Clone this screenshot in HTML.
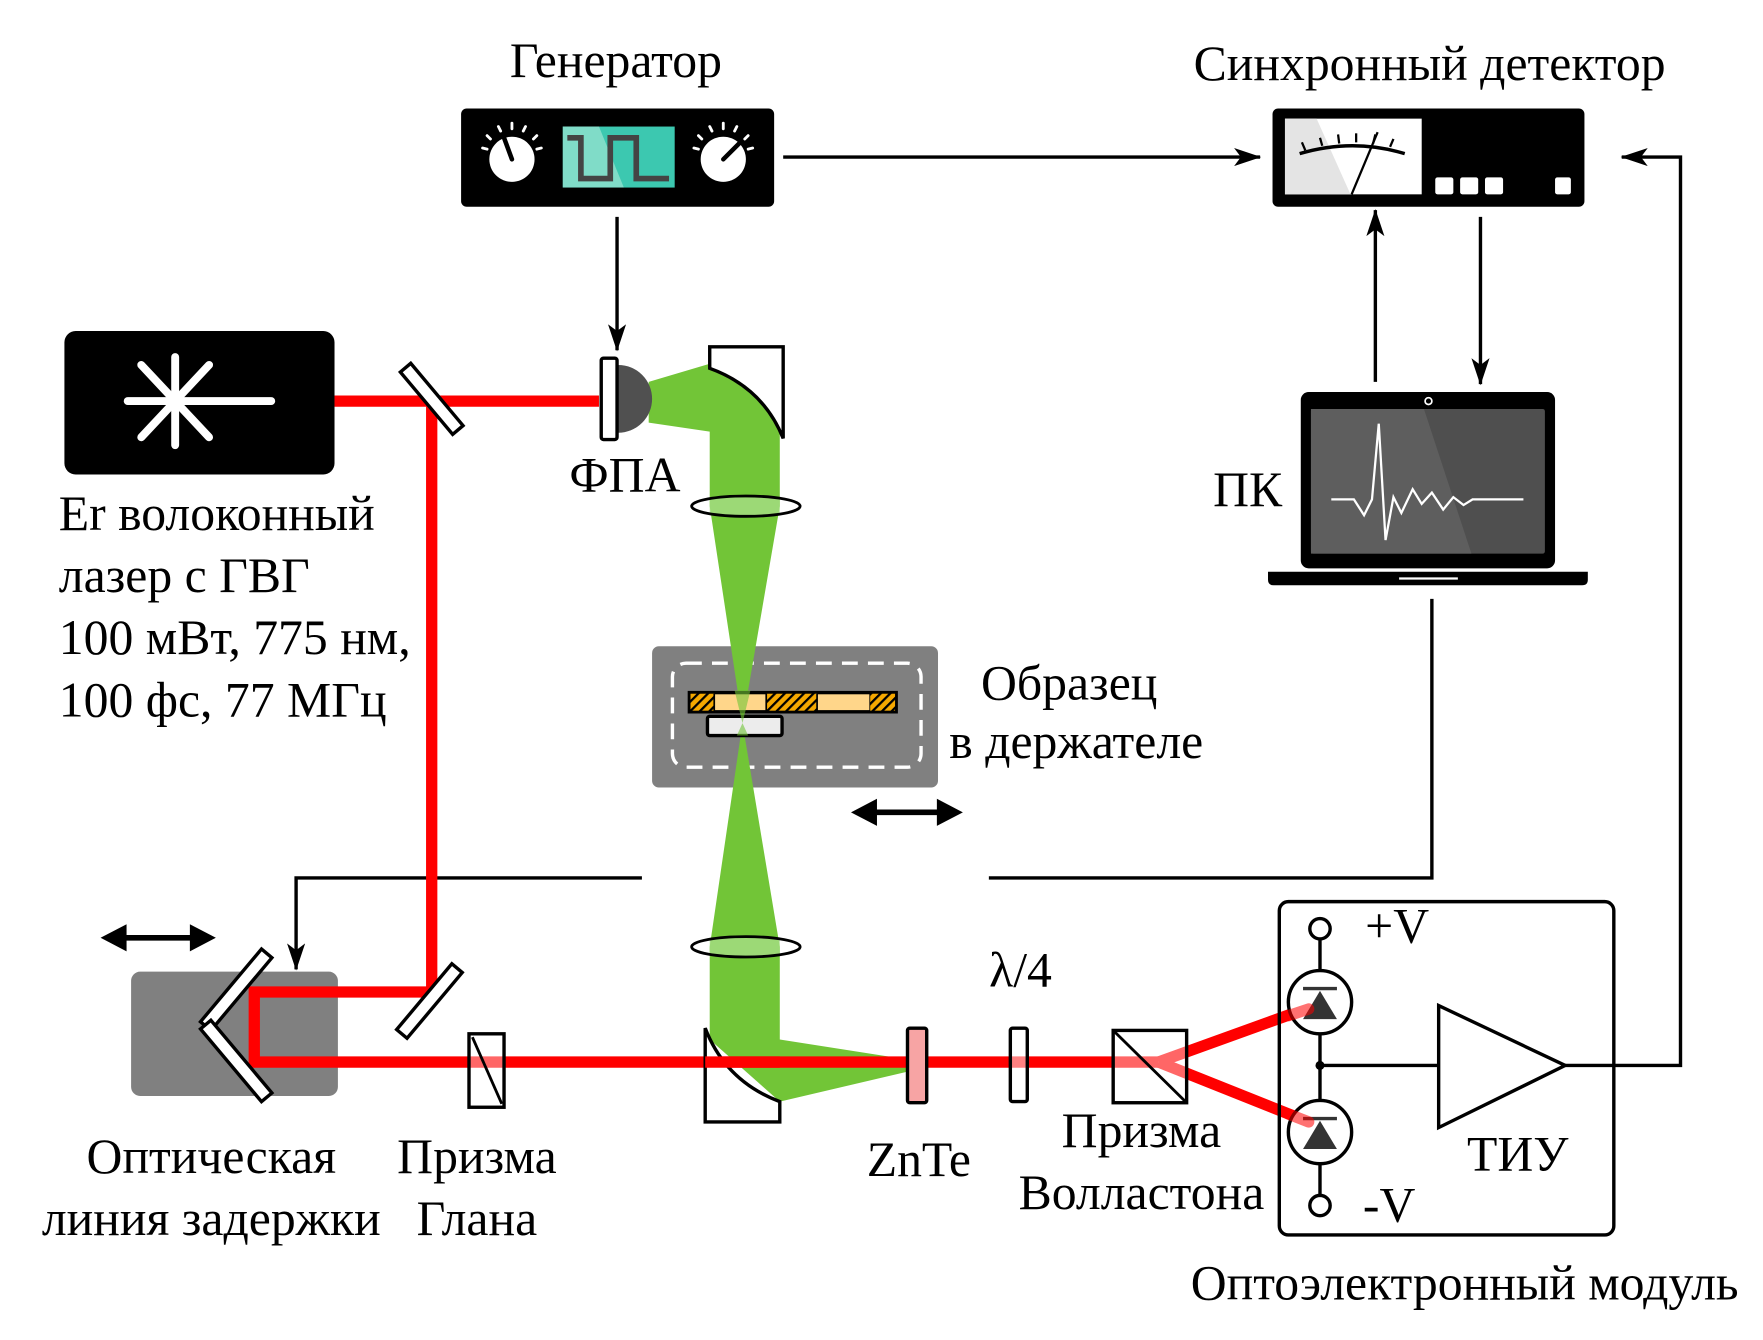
<!DOCTYPE html>
<html><head><meta charset="utf-8"><style>
html,body{margin:0;padding:0;background:#fff}
svg{display:block}
text{font-family:"Liberation Serif",serif;fill:#000}
</style></head><body>
<svg width="1763" height="1340" viewBox="0 0 1560 1186" preserveAspectRatio="none" xmlns="http://www.w3.org/2000/svg">
<defs>
<marker id="ah" viewBox="0 0 24 16" refX="23" refY="8" markerWidth="24" markerHeight="16" markerUnits="userSpaceOnUse" orient="auto"><path d="M0,0 L24,8 L0,16 L6,8 Z" fill="#000"/></marker>
<pattern id="hatch" width="6" height="6" patternUnits="userSpaceOnUse" patternTransform="rotate(45)"><rect width="6" height="6" fill="#f5a800"/><rect width="2" height="6" fill="#000"/></pattern>
</defs>

<g font-size="44">
<text x="545" y="68" text-anchor="middle">Генератор</text>
<text x="1265" y="71" text-anchor="middle">Синхронный детектор</text>
<text x="52" y="469">Er волоконный</text>
<text x="52" y="524">лазер с ГВГ</text>
<text x="52" y="579">100 мВт, 775 нм,</text>
<text x="52" y="634">100 фс, 77 МГц</text>
<text x="553" y="435" text-anchor="middle">ФПА</text>
<text x="1104" y="448" text-anchor="middle">ПК</text>
<text x="868" y="619">Образец</text>
<text x="840" y="671">в держателе</text>
<text x="187" y="1038" text-anchor="middle">Оптическая</text>
<text x="187" y="1093" text-anchor="middle">линия задержки</text>
<text x="422" y="1038" text-anchor="middle">Призма</text>
<text x="422" y="1093" text-anchor="middle">Глана</text>
<text x="813" y="1041" text-anchor="middle">ZnTe</text>
<text x="903" y="873" text-anchor="middle">λ/4</text>
<text x="1010" y="1015" text-anchor="middle">Призма</text>
<text x="1010" y="1070" text-anchor="middle">Волластона</text>
<text x="1208" y="834">+V</text>
<text x="1206" y="1081">-V</text>
<text x="1343" y="1036" text-anchor="middle">ТИУ</text>
<text x="1296" y="1150" text-anchor="middle">Оптоэлектронный модуль</text>
</g>

<rect x="408" y="96" width="277" height="87" rx="5" fill="#000"/>
<rect x="498" y="112" width="99" height="54" fill="#3cc8b0"/>
<polygon points="498,112 530,112 552,166 498,166" fill="#80dcc8"/>
<path d="M502,122 H514 V158 H540 V122 H563 V158 H592" fill="none" stroke="#444" stroke-width="5"/>
<circle cx="453" cy="141" r="20" fill="#fff"/>
<line x1="453" y1="141" x2="446" y2="122" stroke="#000" stroke-width="4" stroke-linecap="round"/>
<g stroke="#fff" stroke-width="2.5" stroke-linecap="round">
<line x1="427" y1="131" x2="431" y2="132"/><line x1="431" y1="120" x2="434" y2="123"/><line x1="441" y1="112" x2="443" y2="116"/><line x1="453" y1="109" x2="453" y2="114"/><line x1="465" y1="112" x2="463" y2="116"/><line x1="475" y1="120" x2="472" y2="123"/><line x1="479" y1="131" x2="475" y2="132"/>
</g>
<circle cx="640" cy="141" r="20" fill="#fff"/>
<line x1="640" y1="141" x2="655" y2="126" stroke="#000" stroke-width="4" stroke-linecap="round"/>
<g stroke="#fff" stroke-width="2.5" stroke-linecap="round">
<line x1="614" y1="131" x2="618" y2="132"/><line x1="618" y1="120" x2="621" y2="123"/><line x1="628" y1="112" x2="630" y2="116"/><line x1="640" y1="109" x2="640" y2="114"/><line x1="652" y1="112" x2="650" y2="116"/><line x1="662" y1="120" x2="659" y2="123"/><line x1="666" y1="131" x2="662" y2="132"/>
</g>

<rect x="1126" y="96" width="276" height="87" rx="5" fill="#000"/>
<rect x="1137" y="105" width="121" height="67" fill="#fff"/>
<polygon points="1137,105 1165,105 1195,172 1137,172" fill="#e4e4e4"/>
<path d="M1150,136 Q1197,122 1243,136" fill="none" stroke="#000" stroke-width="3"/>
<g stroke="#000" stroke-width="2"><line x1="1155" y1="133" x2="1152" y2="126"/><line x1="1170" y1="129" x2="1168" y2="122"/><line x1="1185" y1="127" x2="1184" y2="119"/><line x1="1200" y1="126" x2="1200" y2="118"/><line x1="1215" y1="127" x2="1217" y2="119"/><line x1="1230" y1="130" x2="1233" y2="123"/></g>
<line x1="1196" y1="172" x2="1219" y2="117" stroke="#000" stroke-width="2"/>
<rect x="1270" y="157" width="16" height="15" rx="2" fill="#fff"/>
<rect x="1292" y="157" width="16" height="15" rx="2" fill="#fff"/>
<rect x="1314" y="157" width="16" height="15" rx="2" fill="#fff"/>
<rect x="1376" y="157" width="14" height="15" rx="2" fill="#fff"/>

<g stroke="#000" stroke-width="3" fill="none">
<line x1="693" y1="139" x2="1115" y2="139" marker-end="url(#ah)"/>
<polyline points="1385,943 1487,943 1487,139 1435,139" marker-end="url(#ah)"/>
<line x1="546" y1="192" x2="546" y2="310" marker-end="url(#ah)"/>
<line x1="1217" y1="338" x2="1217" y2="186" marker-end="url(#ah)"/>
<line x1="1310" y1="192" x2="1310" y2="340" marker-end="url(#ah)"/>
<polyline points="1267,530 1267,777 875,777"/>
<polyline points="568,777 262,777 262,858" marker-end="url(#ah)"/>
</g>

<rect x="1151" y="347" width="225" height="156" rx="7" fill="#000"/>
<rect x="1160" y="362" width="207" height="128" rx="2" fill="#4f4f4f"/>
<polygon points="1160,362 1260,362 1302,490 1160,490" fill="#5e5e5e"/>
<circle cx="1264" cy="355" r="3" fill="none" stroke="#fff" stroke-width="1.5"/>
<polyline points="1178,442 1198,442 1207,456 1214,442 1220,375 1226,478 1233,440 1240,454 1250,433 1258,446 1267,436 1277,451 1286,440 1295,447 1303,442 1348,442" fill="none" stroke="#fff" stroke-width="2"/>
<path d="M1122,506 H1405 V513 Q1405,518 1400,518 H1127 Q1122,518 1122,513 Z" fill="#000"/>
<line x1="1238" y1="512" x2="1290" y2="512" stroke="#fff" stroke-width="2"/>

<rect x="57" y="293" width="239" height="127" rx="10" fill="#000"/>
<g stroke="#fff" stroke-width="7" stroke-linecap="round">
<line x1="113" y1="355" x2="240" y2="355"/>
<line x1="155" y1="316" x2="155" y2="394"/>
<line x1="125" y1="323" x2="185" y2="387"/>
<line x1="125" y1="387" x2="185" y2="323"/>
</g>

<rect x="116" y="860" width="183" height="110" rx="8" fill="#808080"/>

<rect x="577" y="572" width="253" height="125" rx="6" fill="#808080"/>
<rect x="595" y="587" width="220" height="92" rx="12" fill="none" stroke="#fff" stroke-width="3" stroke-dasharray="14,9"/>

<polygon fill="#72c537" points="574,338 628,322 690,330 690,448 657,640 690,838 690,920 805,938 805,948 690,975 628,920 628,838 657,640 628,448 628,382 574,374"/>
<rect x="610" y="613" width="183" height="17" fill="#ffd68a" stroke="#000" stroke-width="3"/>
<rect x="611" y="614" width="21" height="15" fill="url(#hatch)"/>
<rect x="678" y="614" width="45" height="15" fill="url(#hatch)"/>
<line x1="678" y1="614" x2="678" y2="629" stroke="#000" stroke-width="1.5"/><line x1="723" y1="614" x2="723" y2="629" stroke="#000" stroke-width="1.5"/><line x1="632" y1="614" x2="632" y2="629" stroke="#000" stroke-width="1.5"/><line x1="770" y1="614" x2="770" y2="629" stroke="#000" stroke-width="1.5"/>
<rect x="770" y="614" width="22" height="15" fill="url(#hatch)"/>
<rect x="626" y="634" width="66" height="17" rx="2" fill="#ececec" stroke="#000" stroke-width="3"/>
<polygon fill="#72c537" opacity="0.6" points="650,611 664,611 657,640"/>
<polygon fill="#72c537" opacity="0.6" points="652,651 662,651 657,640"/>

<rect x="628" y="440" width="62" height="16" fill="#a6dd86" opacity="0.8"/>
<ellipse cx="660" cy="448" rx="48" ry="9" fill="none" stroke="#000" stroke-width="2.5"/>
<rect x="628" y="830" width="62" height="16" fill="#a6dd86" opacity="0.8"/>
<ellipse cx="660" cy="838" rx="48" ry="9" fill="none" stroke="#000" stroke-width="2.5"/>

<g stroke="#000" stroke-width="5"><line x1="100" y1="830" x2="180" y2="830"/><line x1="765" y1="719" x2="840" y2="719"/></g>
<polygon points="89,830 112,818 112,842" fill="#000"/><polygon points="191,830 168,818 168,842" fill="#000"/>
<polygon points="753,719 776,707 776,731" fill="#000"/><polygon points="852,719 829,707 829,731" fill="#000"/>

<g stroke="#ff0000" stroke-width="10" fill="none">
<polyline points="296,355 530,355"/>
<polyline points="382,355 382,878 225,878 225,940 1025,940"/>
<line x1="1025" y1="940" x2="1158" y2="892"/>
<line x1="1025" y1="940" x2="1158" y2="993"/>
</g>

<g fill="#fff" stroke="#000" stroke-width="3">
<rect x="-6" y="-36" width="12" height="72" transform="translate(382,353) rotate(-40)"/>
<rect x="-6" y="-38" width="12" height="76" transform="translate(380,886) rotate(40)"/>
<rect x="-6" y="-42" width="12" height="84" transform="translate(209,876) rotate(40)"/>
<rect x="-6" y="-42" width="12" height="84" transform="translate(209,939) rotate(-40)"/>
</g>
<path d="M547,323 A30,30 0 0 1 547,383 Z" fill="#505050"/>
<rect x="532" y="317" width="14" height="72" rx="2" fill="#fff" stroke="#000" stroke-width="3"/>
<path d="M628,307 H693 V388 Q675,343 628,326 Z" fill="#fff" stroke="#000" stroke-width="3"/>
<path d="M624,910 Q642,957 690,975 V993 H624 Z" fill="#fff" stroke="#000" stroke-width="3"/>
<line x1="624" y1="940" x2="690" y2="940" stroke="#ff0000" stroke-width="10"/>
<rect x="415" y="915" width="31" height="65" fill="#fff" fill-opacity="0.4" stroke="#000" stroke-width="3"/>
<line x1="418" y1="918" x2="444" y2="977" stroke="#000" stroke-width="2.5"/>
<rect x="803" y="910" width="17" height="66" rx="2" fill="#f7a4a4" stroke="#000" stroke-width="3"/>
<rect x="894" y="910" width="15" height="65" rx="2" fill="#fff" fill-opacity="0.5" stroke="#000" stroke-width="3"/>
<rect x="985" y="912" width="65" height="64" fill="#fff" fill-opacity="0.4" stroke="#000" stroke-width="3"/>
<line x1="985" y1="912" x2="1050" y2="976" stroke="#000" stroke-width="2.5"/>

<rect x="1132" y="798" width="296" height="295" rx="8" fill="none" stroke="#000" stroke-width="3"/>
<g stroke="#000" stroke-width="3" fill="none">
<line x1="1168" y1="831" x2="1168" y2="1058"/>
<line x1="1168" y1="943" x2="1273" y2="943"/>
<polygon points="1273,890 1273,998 1385,943" fill="#fff"/>
</g>
<circle cx="1168" cy="822" r="9" fill="#fff" stroke="#000" stroke-width="3"/>
<circle cx="1168" cy="1067" r="9" fill="#fff" stroke="#000" stroke-width="3"/>
<circle cx="1168" cy="943" r="4" fill="#000"/>
<circle cx="1168" cy="887" r="28" fill="#fff" stroke="#000" stroke-width="3"/>
<polygon points="1168,877 1153,902 1183,902" fill="#333"/>
<line x1="1153" y1="875" x2="1183" y2="875" stroke="#333" stroke-width="3"/>
<circle cx="1168" cy="1002" r="28" fill="#fff" stroke="#000" stroke-width="3"/>
<polygon points="1168,992 1153,1017 1183,1017" fill="#333"/>
<line x1="1153" y1="990" x2="1183" y2="990" stroke="#333" stroke-width="3"/>
<g stroke="#ff0000" stroke-width="10" opacity="0.55" stroke-linecap="round">
<line x1="1140" y1="899" x2="1158" y2="893"/>
<line x1="1140" y1="986" x2="1158" y2="993"/>
</g>
</svg>
</body></html>
